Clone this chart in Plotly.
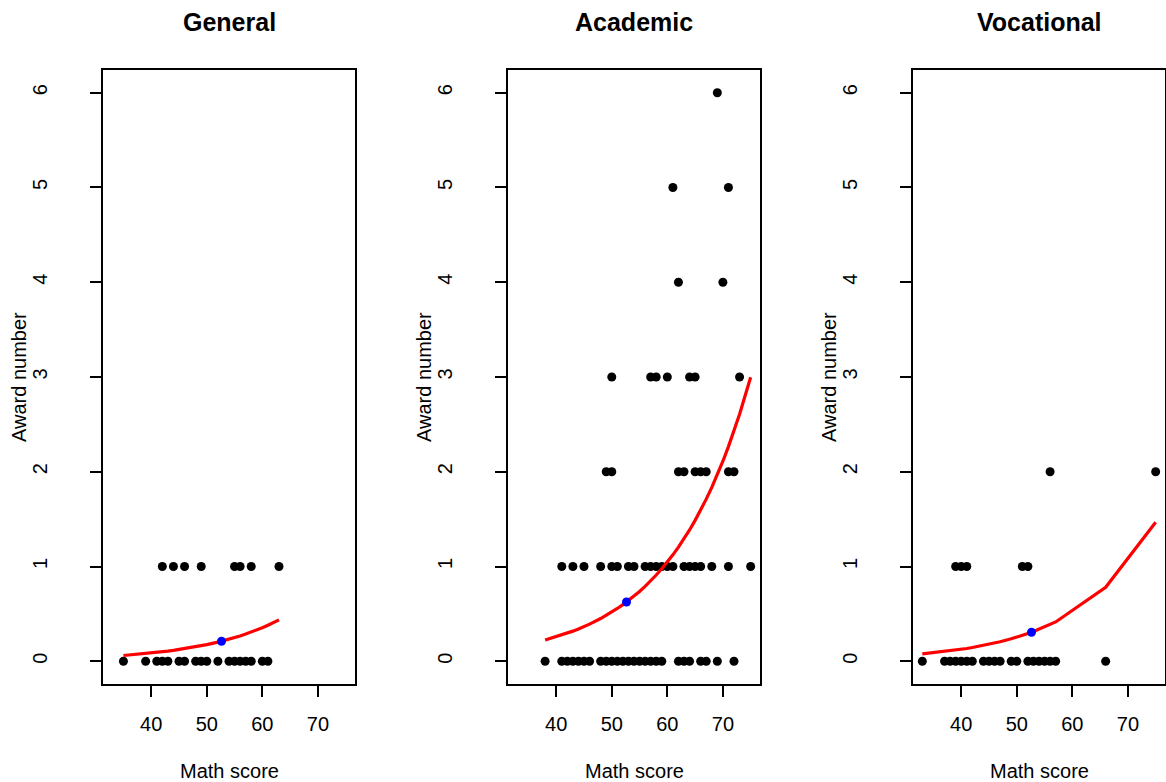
import plotly.graph_objects as go

# ---------------- data ----------------
programs = ["General", "Academic", "Vocational"]

general_math = [35, 39, 41, 42, 43, 45, 46, 48, 49, 50, 52, 54, 55, 56, 57, 58, 60, 61,
                42, 44, 46, 49, 55, 56, 58, 63]
general_awards = [0] * 18 + [1] * 8

academic_math = [38, 41, 42, 43, 44, 45, 46, 48, 49, 50, 51, 52, 53, 54, 55, 56, 57, 58, 59,
                 62, 63, 64, 66, 67, 69, 72,
                 41, 43, 45, 48, 50, 51, 53, 54, 56, 57, 58, 59, 60, 61, 63, 64, 65, 66, 68, 71, 75,
                 49, 50, 62, 63, 65, 66, 67, 71, 72,
                 50, 57, 58, 60, 64, 65, 73,
                 62, 70,
                 61, 71,
                 69]
academic_awards = [0] * 26 + [1] * 21 + [2] * 9 + [3] * 7 + [4] * 2 + [5] * 2 + [6] * 1

vocational_math = [33, 37, 38, 39, 40, 41, 42, 44, 45, 46, 47, 49, 50, 52, 53, 54, 55, 56, 57, 66,
                   39, 40, 41, 51, 52,
                   56, 75]
vocational_awards = [0] * 20 + [1] * 5 + [2] * 2

# fitted curves (estimated from the red lines)
general_fit_x = [35, 39, 41, 42, 43, 44, 45, 46, 48, 49, 50, 52, 54, 55, 56, 57, 58, 60, 61, 63]
general_fit_y = [0.061, 0.081, 0.093, 0.100, 0.107, 0.115, 0.124, 0.133, 0.153, 0.164, 0.176,
                 0.202, 0.232, 0.249, 0.267, 0.287, 0.308, 0.354, 0.380, 0.437]

academic_fit_x = [38, 41, 42, 43, 44, 45, 46, 48, 49, 50, 51, 52, 53, 54, 55, 56, 57, 58, 59, 60,
                  61, 62, 63, 64, 65, 66, 67, 68, 69, 70, 71, 72, 73, 75]
academic_fit_y = [0.224, 0.276, 0.296, 0.318, 0.341, 0.366, 0.392, 0.451, 0.484, 0.519, 0.557,
                  0.597, 0.641, 0.687, 0.737, 0.791, 0.848, 0.910, 0.976, 1.047, 1.123, 1.205,
                  1.292, 1.386, 1.487, 1.595, 1.711, 1.835, 1.968, 2.111, 2.265, 2.429, 2.606, 2.998]

vocational_fit_x = [33, 37, 38, 39, 40, 41, 42, 44, 45, 46, 47, 49, 50, 51, 52, 53, 54, 55, 56,
                    57, 66, 75]
vocational_fit_y = [0.077, 0.102, 0.110, 0.117, 0.126, 0.135, 0.145, 0.167, 0.179, 0.192, 0.206,
                    0.237, 0.254, 0.273, 0.292, 0.314, 0.337, 0.361, 0.387, 0.415, 0.781, 1.468]

mean_math = [52.65, 52.65, 52.65]
mean_pred = [0.211, 0.625, 0.306]

x_ticks = [40, 50, 60, 70]
y_ticks = [0, 1, 2, 3, 4, 5, 6]

# ---------------- figure ----------------
W, H = 1166, 782
FONT = "Liberation Sans, Arial, Helvetica, sans-serif"

panels = [
    (general_math, general_awards, general_fit_x, general_fit_y),
    (academic_math, academic_awards, academic_fit_x, academic_fit_y),
    (vocational_math, vocational_awards, vocational_fit_x, vocational_fit_y),
]
box_left = [103, 508, 913]
box_w = 252
box_top, box_bottom = 70, 684

fig = go.Figure()
layout = dict(
    width=W, height=H,
    margin=dict(l=0, r=0, t=0, b=0),
    paper_bgcolor="white", plot_bgcolor="white",
    showlegend=False,
    font=dict(family=FONT, size=20, color="black"),
    annotations=[],
)

for i, (mx, aw, fx, fy) in enumerate(panels):
    sfx = "" if i == 0 else str(i + 1)
    xa, ya = "x" + sfx, "y" + sfx
    fig.add_trace(go.Scatter(x=mx, y=aw, mode="markers", xaxis=xa, yaxis=ya,
                             marker=dict(color="black", size=9, line=dict(width=0))))
    fig.add_trace(go.Scatter(x=fx, y=fy, mode="lines", xaxis=xa, yaxis=ya,
                             line=dict(color="red", width=3.2)))
    fig.add_trace(go.Scatter(x=[mean_math[i]], y=[mean_pred[i]], mode="markers",
                             xaxis=xa, yaxis=ya,
                             marker=dict(color="blue", size=9, line=dict(width=0))))

    x0 = box_left[i] / W
    x1 = (box_left[i] + box_w) / W
    y0 = 1 - box_bottom / H
    y1 = 1 - box_top / H
    layout["xaxis" + sfx] = dict(
        domain=[x0, x1], range=[31.32, 76.68], anchor=ya,
        tickmode="array", tickvals=x_ticks, ticks="outside", ticklen=11, tickwidth=1.6,
        tickcolor="black", showline=True, linecolor="black", linewidth=1.6, mirror=True,
        showgrid=False, zeroline=False, ticklabelstandoff=10,
        tickfont=dict(size=20, family=FONT),
    )
    layout["yaxis" + sfx] = dict(
        domain=[y0, y1], range=[-0.24, 6.24], anchor=xa,
        tickmode="array", tickvals=y_ticks, ticks="outside", ticklen=11, tickwidth=1.6,
        tickcolor="black", showline=True, linecolor="black", linewidth=1.6, mirror=True,
        showgrid=False, zeroline=False, tickangle=-90, ticklabelstandoff=35,
        tickfont=dict(size=20, family=FONT),
    )
    cx = (box_left[i] + box_w / 2) / W
    layout["annotations"].append(dict(
        text="<b>" + programs[i] + "</b>", x=cx, y=1 - 22 / H, xref="paper", yref="paper",
        xanchor="center", yanchor="middle", showarrow=False,
        font=dict(size=25, family=FONT, color="black")))
    layout["annotations"].append(dict(
        text="Math score", x=cx, y=1 - 771 / H, xref="paper", yref="paper",
        xanchor="center", yanchor="middle", showarrow=False,
        font=dict(size=20, family=FONT, color="black")))
    layout["annotations"].append(dict(
        text="Award number", x=(box_left[i] - 84) / W, y=1 - ((box_top + box_bottom) / 2) / H,
        xref="paper", yref="paper", textangle=-90,
        xanchor="center", yanchor="middle", showarrow=False,
        font=dict(size=20, family=FONT, color="black")))

fig.update_layout(**layout)
fig.write_html("out.html")
